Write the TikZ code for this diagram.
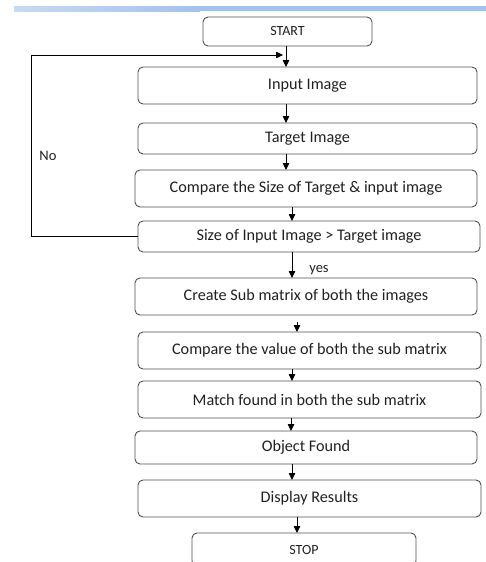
\documentclass[tikz,border=0pt]{standalone}
\usepackage{fontspec}
\setmainfont{Carlito}
\usetikzlibrary{arrows.meta}
\definecolor{barblue}{HTML}{A3C1EB}
\definecolor{barlight}{HTML}{C8DAF3}
\definecolor{boxline}{HTML}{505050}
\definecolor{inktext}{HTML}{202020}
\tikzset{
  x=1pt, y=-1pt,
  stepbox/.style={draw=boxline, line width=0.9pt, rounded corners=5pt,
    inner sep=0pt, text=inktext, font=\fontsize{16.2}{18}\selectfont},
  flow/.style={draw=black, line width=0.8pt, -{Triangle[length=7pt,width=6.5pt]}},
  label/.style={text=inktext, font=\fontsize{14.5}{16}\selectfont}
}
\newcommand{\stepnode}[6]{%
  \node[stepbox, minimum width=#4-#2, minimum height=#5-#3] (#1) at ({(#2+#4)/2},{(#3+#5)/2}) {#6};}
\begin{document}
\begin{tikzpicture}
\useasboundingbox (0,0) rectangle (486,562);
% header rule
\shade[left color=barlight, right color=barblue, shading angle=90] (14,6) rectangle (200,11);
\fill[barblue] (200,6) rectangle (486,11);

\stepnode{start}{203}{17}{372}{46}{\fontsize{14}{15}\selectfont START}
\stepnode{input}{138}{67}{477}{104}{Input Image}
\stepnode{target}{138}{123}{477}{154}{Target Image}
\stepnode{cmpsize}{135}{170}{477}{207}{Compare the Size of Target \& input image}
\stepnode{test}{138}{221}{480}{252}{Size of Input Image > Target image}
\stepnode{submat}{135}{278}{477}{315}{Create Sub matrix of both the images}
\stepnode{cmpval}{138}{332}{481}{369}{Compare the value of both the sub matrix}
\stepnode{match}{138}{381}{481}{418}{Match found in both the sub matrix}
\stepnode{object}{135}{431}{477}{464}{Object Found}
\stepnode{display}{138}{480}{481}{517}{Display Results}
\stepnode{stop}{192}{533}{416}{566}{\fontsize{14}{15}\selectfont STOP}

% connectors
\coordinate (loopend) at (283,55);
\draw[flow] (286,46) -- (286,67);
\draw[flow] (286,104) -- (286,123);
\draw[flow] (286,154) -- (286,170);
\draw[flow] (292,207) -- (292,221);
\draw[flow] (292,252) -- (292,278);
\draw[flow] (297,322) -- (297,332);
\draw[flow] (292,369) -- (292,381);
\draw[flow] (291,418) -- (291,431);
\draw[flow] (292,464) -- (292,480);
\draw[flow] (297,517) -- (297,533);
% "No" branch back to the input step
\draw[flow] (test.west) -| (31,55) -- (loopend);

\node[label] at (48,156) {No};
\node[label] at (319,270) {yes};
\end{tikzpicture}
\end{document}
